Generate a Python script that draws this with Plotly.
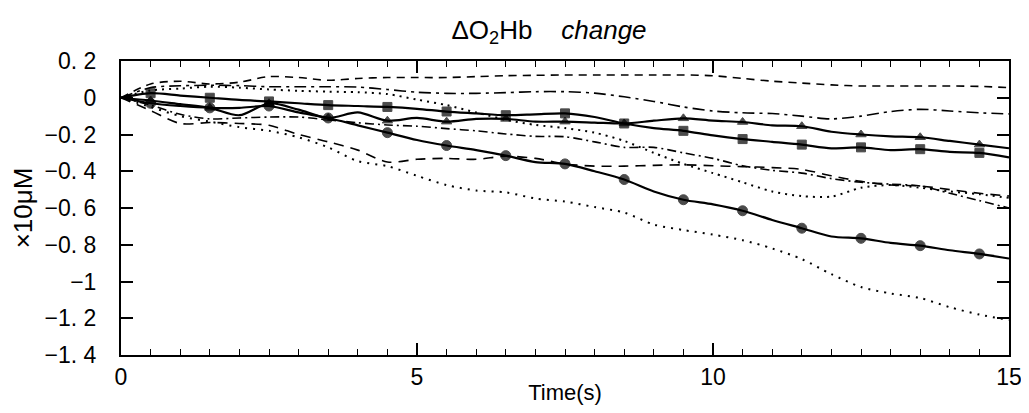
import plotly.graph_objects as go

# time axis (s), sampled every 0.5 s
time_s = [0, 0.5, 1, 1.5, 2, 2.5, 3, 3.5, 4, 4.5, 5, 5.5, 6, 6.5, 7, 7.5,
          8, 8.5, 9, 9.5, 10, 10.5, 11, 11.5, 12, 12.5, 13, 13.5, 14, 14.5, 15]

# solid series with markers (markers every 1 s, at x.5)
circle_vals = [0, -0.03, -0.045, -0.055, -0.055, -0.045, -0.08, -0.11, -0.15, -0.19,
               -0.23, -0.26, -0.285, -0.315, -0.35, -0.36, -0.40, -0.445, -0.51, -0.555,
               -0.58, -0.615, -0.665, -0.71, -0.755, -0.765, -0.79, -0.805, -0.83, -0.85, -0.875]
square_vals = [0, 0.025, 0.012, 0.0, -0.012, -0.02, -0.03, -0.04, -0.045, -0.05,
               -0.06, -0.075, -0.085, -0.095, -0.09, -0.085, -0.105, -0.14, -0.165, -0.18,
               -0.205, -0.225, -0.24, -0.255, -0.275, -0.27, -0.285, -0.28, -0.295, -0.30, -0.325]
triangle_vals = [0, -0.015, -0.035, -0.055, -0.095, -0.03, -0.065, -0.11, -0.08, -0.125,
                 -0.11, -0.13, -0.115, -0.115, -0.13, -0.13, -0.135, -0.14, -0.125, -0.112,
                 -0.125, -0.132, -0.15, -0.155, -0.185, -0.2, -0.21, -0.215, -0.235, -0.255, -0.275]

# broken-line series (no markers)
dash_top = [0, 0.075, 0.09, 0.075, 0.085, 0.115, 0.11, 0.095, 0.105, 0.11,
            0.11, 0.11, 0.115, 0.12, 0.122, 0.124, 0.124, 0.124, 0.124, 0.124,
            0.12, 0.105, 0.09, 0.08, 0.07, 0.064, 0.064, 0.064, 0.064, 0.062, 0.055]
dashdot_upper = [0, 0.055, 0.065, 0.068, 0.066, 0.06, 0.06, 0.06, 0.058, 0.045,
                 0.03, 0.024, 0.024, 0.028, 0.033, 0.033, 0.025, 0.005, -0.02, -0.05,
                 -0.072, -0.082, -0.086, -0.1, -0.115, -0.1, -0.075, -0.063, -0.072, -0.082, -0.088]
dot_upper = [0, 0.04, 0.05, 0.06, 0.055, 0.045, 0.038, 0.033, 0.03, 0.02,
             -0.01, -0.04, -0.08, -0.12, -0.148, -0.165, -0.19, -0.235, -0.30, -0.36,
             -0.41, -0.46, -0.51, -0.535, -0.538, -0.49, -0.475, -0.49, -0.51, -0.525, -0.545]
dashdot_mid = [0, -0.04, -0.09, -0.115, -0.11, -0.105, -0.105, -0.12, -0.136, -0.148,
               -0.155, -0.168, -0.18, -0.197, -0.21, -0.212, -0.24, -0.27, -0.27, -0.30,
               -0.33, -0.37, -0.395, -0.41, -0.44, -0.46, -0.47, -0.48, -0.52, -0.56, -0.60]
dash_mid = [0, -0.07, -0.14, -0.135, -0.14, -0.15, -0.2, -0.24, -0.285, -0.35,
            -0.335, -0.33, -0.335, -0.318, -0.33, -0.36, -0.372, -0.372, -0.368, -0.365,
            -0.37, -0.375, -0.38, -0.39, -0.425, -0.455, -0.475, -0.48, -0.5, -0.52, -0.535]
dot_bottom = [0, -0.05, -0.1, -0.13, -0.16, -0.18, -0.215, -0.27, -0.345, -0.372,
              -0.425, -0.475, -0.505, -0.515, -0.548, -0.565, -0.595, -0.625, -0.69, -0.72,
              -0.745, -0.775, -0.82, -0.878, -0.96, -1.03, -1.065, -1.09, -1.14, -1.18, -1.21]

y_tickvals = [0.2, 0, -0.2, -0.4, -0.6, -0.8, -1, -1.2, -1.4]
y_ticktext = ["0. 2", "0", "−0. 2", "−0. 4", "−0. 6", "−0. 8", "−1", "−1. 2", "−1. 4"]
x_tickvals = [0, 5, 10, 15]

FONT = "Liberation Sans, Arial, sans-serif"

fig = go.Figure()

broken = [
    (dash_top, "8px,6px", 1.6),
    (dashdot_upper, "12px,5px,3px,5px", 1.6),
    (dot_upper, "2px,5px", 2.0),
    (dashdot_mid, "9px,4px,2px,4px", 1.6),
    (dash_mid, "10px,7px", 1.6),
    (dot_bottom, "2px,6px", 2.0),
]
for vals, dash, w in broken:
    fig.add_trace(go.Scatter(x=time_s, y=vals, mode="lines",
                             line=dict(color="black", width=w, dash=dash,
                                       shape="spline", smoothing=0.8),
                             showlegend=False, hoverinfo="skip"))

# markers only on the x.5 samples
def marker_sizes(size):
    return [size if i % 2 == 1 else 0 for i in range(len(time_s))]

solid = [
    (circle_vals, "circle", 10),
    (square_vals, "square", 9),
    (triangle_vals, "triangle-up", 9),
]
for vals, sym, size in solid:
    fig.add_trace(go.Scatter(x=time_s, y=vals, mode="lines+markers",
                             line=dict(color="black", width=2.2, shape="spline", smoothing=0.8),
                             marker=dict(symbol=sym, size=marker_sizes(size), color="black",
                                         line=dict(width=1, color="black")),
                             showlegend=False))

# page body has an 8px margin all round, so keep figure + 16px inside the window
fig.update_layout(
    width=1013, height=397,
    margin=dict(l=113, r=12, t=53, b=50),
    paper_bgcolor="white", plot_bgcolor="white",
    font=dict(family=FONT, color="black", size=21),
    title=dict(text="ΔO<sub>2</sub>Hb\u00a0\u00a0\u00a0\u00a0<i>change</i>", x=0.482,
               xref="paper", xanchor="center", y=0.945, yanchor="middle",
               font=dict(size=26, family=FONT)),
)
fig.update_xaxes(range=[0, 15], tickvals=x_tickvals, ticks="inside", ticklen=12,
                 tickwidth=1.5, tickcolor="black", automargin=False,
                 ticklabeloverflow="allow",
                 minor=dict(dtick=0.5, ticks="inside", ticklen=6, tickcolor="black", tickwidth=1.2),
                 showline=True, linecolor="black", linewidth=2, mirror="ticks",
                 showgrid=False, zeroline=False, tickfont=dict(size=23),
                 title=dict(text="Time(s)", font=dict(size=22), standoff=2))
fig.update_yaxes(range=[-1.4, 0.2], tickvals=y_tickvals, ticktext=y_ticktext,
                 ticks="inside", ticklen=12, tickwidth=1.5, tickcolor="black",
                 automargin=False, ticklabeloverflow="allow",
                 showline=True, linecolor="black", linewidth=2, mirror="ticks",
                 showgrid=False, zeroline=False, tickfont=dict(size=23),
                 ticklabelstandoff=18,
                 title=dict(text="×10μM", font=dict(size=26), standoff=10))

fig.write_html("out.html")
